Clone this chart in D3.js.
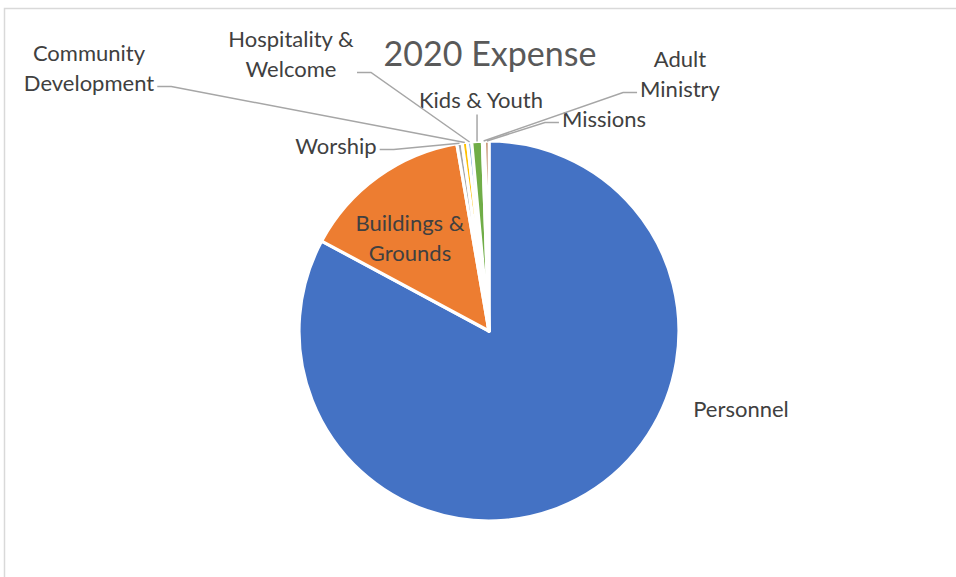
<!DOCTYPE html>
<html>
<head>
<meta charset="utf-8">
<script src="https://cdn.jsdelivr.net/npm/d3@7"></script>
<style>
  body { margin: 0; background: #fff; }
  text { font-family: Lato, "Open Sans", sans-serif; }
</style>
</head>
<body>
<div id="chart-area"></div>
<script>
// data (share of total, %)
var categories = ["Personnel", "Buildings & Grounds", "Worship", "Community Development",
	"Hospitality & Welcome", "Kids & Youth", "Adult Ministry", "Missions"];
var values = [82.6, 14.4, 0.45, 0.45, 0.35, 0.9, 0.2, 0.35];
var labelLines = [["Personnel"], ["Buildings &", "Grounds"], ["Worship"], ["Community", "Development"],
	["Hospitality &", "Welcome"], ["Kids & Youth"], ["Adult", "Ministry"], ["Missions"]];
var colors = ["#4472C4", "#ED7D31", "#A5A5A5", "#FFC000", "#5B9BD5", "#70AD47", "#264478", "#9E480E"];

// label placement (layout only)
var labelPos = [
	{x: 741, y: 408, leader: null},
	{x: 410, y: 237, leader: null},
	{x: 336, y: 145, leader: "right"},
	{x: 89, y: 67, leader: "right"},
	{x: 291, y: 53, leader: "right"},
	{x: 481, y: 99, leader: "below"},
	{x: 680, y: 73, leader: "left"},
	{x: 604, y: 118, leader: "left"}
];

var width = 956, height = 577;
var cx = 489, cy = 331, radius = 190;
var lineH = 30;

var svg = d3.select("#chart-area")
	.append("svg")
		.attr("width", width)
		.attr("height", height);

	// chart frame
svg.append("rect")
	.attr("x", 4.5)
	.attr("y", 8.5)
	.attr("width", 1000)
	.attr("height", 1000)
	.attr("fill", "none")
	.attr("stroke", "#d9d9d9")
	.attr("stroke-width", 1.5);

	// title
svg.append("text")
	.attr("x", 490)
	.attr("y", 52)
	.attr("text-anchor", "middle")
	.attr("dominant-baseline", "central")
	.attr("font-size", "34px")
	.attr("fill", "#595959")
	.text("2020 Expense");

var pie = d3.pie().sort(null).value(function(d){ return d; });
var arcs = pie(values);

var arc = d3.arc().innerRadius(0).outerRadius(radius);

var g = svg.append("g")
	.attr("transform", "translate(" + cx + ", " + cy + ")");

g.selectAll("path")
	.data(arcs)
	.enter()
	.append("path")
		.attr("d", arc)
		.attr("fill", function(d, i){ return colors[i]; })
		.attr("stroke", "#fff")
		.attr("stroke-width", 3.2)
		.attr("stroke-linejoin", "round");

	// labels
var labels = svg.append("g");
var leaders = svg.append("g");

arcs.forEach(function(d, i){
	var p = labelPos[i];
	var lines = labelLines[i];
	var t = labels.append("text")
		.attr("text-anchor", "middle")
		.attr("font-size", "22px")
		.attr("fill", "#404040");
	lines.forEach(function(s, k){
		t.append("tspan")
			.attr("x", p.x)
			.attr("y", p.y + (k - (lines.length - 1) / 2) * lineH)
			.attr("dominant-baseline", "central")
			.text(s);
	});

	if (!p.leader) return;
	var bb = t.node().getBBox();
	var mid = (d.startAngle + d.endAngle) / 2;
	var ex = cx + radius * Math.sin(mid);
	var ey = cy - radius * Math.cos(mid);
	var pts;
	if (p.leader === "below") {
		pts = [[ex, bb.y + bb.height + 2], [ex, ey]];
	} else {
		var sy = bb.y + bb.height - 9;
		var sx = p.leader === "right" ? bb.x + bb.width + 3 : bb.x - 3;
		var kx = p.leader === "right" ? sx + 14 : sx - 14;
		pts = [[sx, sy], [kx, sy], [ex, ey]];
	}
	leaders.append("path")
		.attr("d", d3.line()(pts))
		.attr("fill", "none")
		.attr("stroke", "#a6a6a6")
		.attr("stroke-width", 1.5);
});
</script>
</body>
</html>
